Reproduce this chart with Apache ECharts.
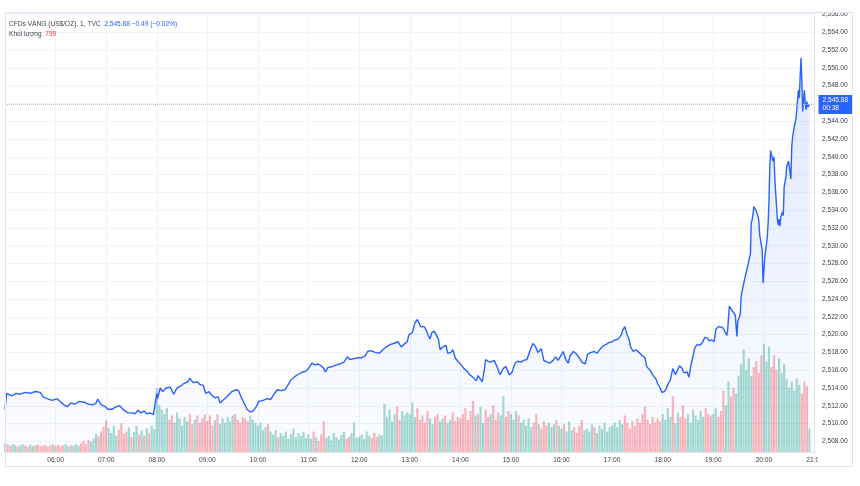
<!DOCTYPE html>
<html><head><meta charset="utf-8">
<script src="https://cdn.jsdelivr.net/npm/echarts@6/dist/echarts.min.js"></script>
<style>html,body{margin:0;padding:0;background:#fff}#c{width:860px;height:486px}</style>
</head><body><div id="c"></div><script>
const priceTimes = ["05:00","05:02","05:08","05:13","05:18","05:24","05:30","05:36","05:42","05:45","05:50","05:56",
"06:02","06:05","06:10","06:14","06:18","06:23","06:28","06:34","06:38","06:44","06:48","06:50","06:54","06:59",
"07:02","07:07","07:12","07:16","07:21","07:26","07:31","07:34","07:38","07:41","07:45","07:48","07:52","07:56","07:58",
"08:00","08:01","08:04","08:07","08:11","08:16","08:20","08:24","08:28","08:32","08:37","08:39","08:43","08:48","08:51","08:55","08:58",
"09:02","09:05","09:09","09:13","09:15","09:18","09:22","09:26","09:29","09:34","09:37","09:40","09:43","09:47","09:51","09:54","09:58",
"10:01","10:06","10:11","10:15","10:19","10:23","10:27","10:32","10:36","10:39","10:44","10:49","10:53","10:57",
"11:00","11:04","11:08","11:11","11:15","11:18","11:20","11:23","11:28","11:33","11:37","11:42","11:46","11:49","11:54","11:59",
"12:03","12:07","12:10","12:14","12:19","12:24","12:28","12:32","12:37","12:41","12:46","12:50","12:53","12:57","12:59",
"13:03","13:06","13:09","13:11","13:13","13:17","13:19","13:22","13:24","13:26","13:29","13:31","13:34","13:36","13:39","13:43","13:45","13:49","13:51","13:54","13:57",
"14:01","14:04","14:08","14:11","14:15","14:19","14:21","14:23","14:26","14:28","14:30","14:33","14:36","14:40","14:43","14:47","14:51","14:54","14:58",
"15:01","15:05","15:08","15:12","15:15","15:19","15:23","15:26","15:29","15:32","15:36","15:39","15:43","15:46","15:50","15:53","15:56","15:59",
"16:02","16:05","16:08","16:10","16:14","16:17","16:21","16:24","16:28","16:31","16:35","16:39","16:42","16:46","16:49","16:53","16:56",
"17:00","17:03","17:07","17:11","17:13","17:15","17:18","17:20","17:22","17:25","17:28","17:32","17:35","17:39","17:41","17:45","17:48","17:52","17:54","17:57","17:59",
"18:02","18:04","18:06","18:09","18:11","18:12","18:15","18:17","18:20","18:23","18:25","18:29","18:31","18:34","18:36","18:38","18:41","18:44","18:47","18:50","18:53","18:55","18:58",
"19:01","19:03","19:06","19:08","19:11","19:14","19:16","19:17","19:19","19:21","19:23","19:26","19:28","19:29","19:32","19:33","19:35","19:38","19:40","19:42","19:44","19:45","19:46","19:47","19:48","19:51","19:53","19:54","19:55","19:58","19:59",
"20:01","20:04","20:05","20:06","20:07","20:08","20:10","20:11","20:12","20:13","20:14","20:16","20:17","20:18","20:19","20:20","20:22","20:23","20:24","20:26","20:27","20:29","20:30","20:31","20:32","20:33","20:34","20:36","20:38","20:39","20:41","20:42","20:43","20:44","20:45","20:46","20:48","20:49","20:50","20:51","20:52","20:54"];
const priceValues = [2511.6,2513.4,2513.1,2513.4,2513.3,2513.5,2513.4,2513.6,2513.5,2513.0,2512.8,2512.6,
2512.8,2512.5,2512.1,2511.9,2512.3,2512.2,2512.5,2512.4,2512.2,2512.1,2512.3,2512.75,2512.1,2511.9,
2511.6,2511.6,2511.9,2512.0,2511.5,2511.2,2511.2,2511.1,2511.5,2511.2,2511.4,2511.1,2511.2,2511.0,2512.2,
2513.4,2512.8,2514.0,2513.6,2514.0,2514.1,2513.3,2514.0,2514.2,2514.5,2514.7,2515.1,2514.6,2514.7,2514.4,2514.3,2513.4,
2513.6,2513.2,2512.9,2513.0,2512.3,2512.6,2512.9,2513.3,2513.6,2513.8,2513.7,2513.0,2512.4,2511.6,2511.3,2511.4,2511.9,
2512.5,2512.6,2512.8,2512.7,2513.3,2513.8,2513.7,2513.8,2514.4,2514.9,2515.3,2515.6,2515.8,2515.9,
2516.2,2516.8,2516.6,2516.7,2516.5,2516.2,2515.8,2516.3,2516.4,2516.6,2516.7,2516.9,2517.5,2517.2,2517.3,2517.4,
2517.4,2517.6,2518.1,2518.2,2518.0,2517.9,2518.3,2518.6,2518.9,2519.0,2519.2,2518.6,2518.9,2519.2,2520.0,
2520.2,2521.3,2521.7,2521.5,2520.9,2520.9,2520.6,2519.9,2519.5,2520.2,2520.4,2520.2,2519.5,2518.3,2518.6,2518.8,2517.9,2518.0,2518.3,2517.4,2517.0,
2516.6,2516.2,2515.9,2515.5,2515.2,2514.8,2515.4,2515.1,2514.7,2515.8,2517.2,2517.0,2516.9,2517.1,2516.5,2515.5,2516.2,2516.4,2515.5,
2515.7,2516.8,2517.0,2516.9,2517.1,2517.2,2518.3,2519.0,2518.7,2518.0,2518.4,2517.1,2516.9,2516.8,2517.1,2517.5,2517.1,2517.6,
2518.1,2517.2,2516.8,2517.6,2518.1,2517.9,2517.4,2516.9,2516.7,2517.8,2518.0,2518.1,2517.9,2518.4,2518.7,2518.9,2519.1,
2519.2,2519.4,2519.5,2520.0,2520.6,2520.9,2519.9,2519.5,2518.6,2518.1,2518.3,2518.0,2517.7,2517.4,2516.4,2516.0,2515.5,2515.0,2514.5,2514.0,2513.5,
2513.6,2513.9,2514.4,2514.9,2515.1,2516.2,2515.5,2515.3,2516.5,2516.2,2515.7,2515.8,2515.2,2516.8,2517.6,2518.5,2518.9,2518.8,2519.1,2519.7,2519.6,2519.3,2519.4,
2519.2,2520.6,2520.9,2520.7,2520.8,2520.3,2519.9,2520.5,2523.2,2523.0,2522.6,2522.2,2519.8,2521.5,2522.3,2524.3,2525.3,2526.6,2527.4,2527.5,2529.1,2532.6,2532.9,2533.5,2534.4,2533.9,2533.3,2532.8,2531.2,2529.5,2525.8,
2528.6,2531.0,2532.5,2535.0,2538.9,2540.7,2539.8,2539.5,2540.0,2537.4,2535.9,2532.9,2532.3,2533.0,2532.2,2533.2,2533.8,2533.4,2536.6,2537.7,2538.9,2539.5,2539.0,2539.2,2537.5,2541.1,2542.2,2543.4,2544.3,2544.5,2547.5,2546.6,2549.0,2551.1,2548.6,2545.1,2547.5,2546.0,2545.3,2546.2,2545.6,2545.88];

const volumeStart = "05:00";
const volumeStepMinutes = 3;
const volumeValues = [
300,260,210,280,240,190,230,270,220,180,250,200,230,260,190,210,240,180,220,260,
210,250,190,230,270,200,240,220,260,210,300,380,280,420,350,460,620,540,700,860,
1080,820,650,900,560,760,980,620,700,840,520,680,900,600,740,560,820,650,900,780,
2200,1600,1450,1300,1500,1100,1250,1000,1350,1150,900,1200,1050,1300,950,1100,1250,1000,1150,1280,
1050,1250,900,1100,1300,950,1150,1000,1200,1050,1250,1300,1100,1000,1200,1150,1050,1250,1100,1000,
900,1000,750,850,950,700,600,750,500,650,550,700,450,600,800,500,650,550,700,480,
600,450,700,520,380,600,1050,480,550,400,650,500,420,580,700,450,520,650,1000,480,
520,600,450,700,550,480,650,520,600,560,1650,1200,1450,1050,1300,1550,1100,1400,1250,1350,
1300,1700,1200,1500,1100,1250,1000,1400,1150,950,1200,1300,1050,1150,1250,1000,1100,1350,1050,1200,
1150,1300,1500,1100,1400,1750,1250,1300,1550,1000,1450,1200,1300,1600,1100,1350,1250,1900,1200,1400,
1300,1100,1400,1250,1000,1100,900,1150,850,1000,1300,950,800,1050,900,1000,850,950,1100,900,
800,950,700,1050,750,850,650,900,1100,750,800,700,950,850,650,900,780,1000,700,850,
900,1000,850,1100,950,1250,1000,800,1050,900,1150,1000,1300,1550,1100,950,1200,1000,1150,1050,
1300,1100,1500,1200,1900,1000,1350,1200,1600,1150,1300,1000,1450,1250,1100,1400,1200,1500,1300,1250,
1300,1500,1200,1400,2100,1600,2400,1900,2200,2000,2600,3000,3500,2800,3200,2600,2900,3100,2700,3300,
3700,3100,3600,2900,3300,2800,3200,2700,3000,2500,2200,2400,2100,2500,2300,2000,2400,2250,799];

const hourLabelsFrom = "05:00", hourLabelsTo = "21:00";
const lastPriceText = "2,545.88", countdownText = "00:38";
const symbolText = "CFDs VÀNG (US$/OZ), 1, TVC";
const changeText = "2,545.88 −0.49 (−0.02%)";
const volumeTitle = "Khối lượng";

const FONT = "'Liberation Sans', Arial, sans-serif";
const FS = 6.6;
const toMin = s => { const p = s.split(':'); return (+p[0]) * 60 + (+p[1]); };
const pad = n => (n < 10 ? '0' : '') + n;
const fmtPrice = v => { const s = v.toFixed(2); const [i, d] = s.split('.'); return i.replace(/\B(?=(\d{3})+(?!\d))/g, ',') + '.' + d; };

const pricePts = priceTimes.map((t, i) => [toMin(t), priceValues[i]]);
const lastPrice = priceValues[priceValues.length - 1];
const lastVol = volumeValues[volumeValues.length - 1];

function priceAt(m) {
  if (m <= pricePts[0][0]) return pricePts[0][1];
  for (let i = 1; i < pricePts.length; i++) {
    if (pricePts[i][0] >= m) {
      const a = pricePts[i - 1], b = pricePts[i];
      return a[1] + (b[1] - a[1]) * (m - a[0]) / (b[0] - a[0]);
    }
  }
  return pricePts[pricePts.length - 1][1];
}
const v0 = toMin(volumeStart);
const UP = 'rgba(8,153,129,0.36)', DOWN = 'rgba(242,54,69,0.36)';
const volData = volumeValues.map((v, i) => {
  const m = v0 + i * volumeStepMinutes;
  const up = priceAt(m + volumeStepMinutes) >= priceAt(m);
  return { value: [m, v], itemStyle: { color: up ? UP : DOWN } };
});

const txt = (c) => ({ color: c, fontSize: FS, fontFamily: FONT, fontWeight: 'normal', lineHeight: 9 });
const xMin = toMin(hourLabelsFrom), xMax = toMin(hourLabelsTo);
const chart = echarts.init(document.getElementById('c'), null, { renderer: 'canvas' });
chart.setOption({
  animation: false,
  backgroundColor: '#fff',
  textStyle: { fontFamily: FONT },
  title: [{
    left: 9, top: 19.5, padding: 0,
    text: '{a|' + symbolText + '}  {b|' + changeText + '}',
    textStyle: { fontWeight: 'normal', fontSize: FS, rich: { a: txt('#3c3f4a'), b: txt('#2962ff') } }
  }, {
    left: 9, top: 29.5, padding: 0,
    text: '{a|' + volumeTitle + '}  {c|' + lastVol + '}',
    textStyle: { fontWeight: 'normal', fontSize: FS, rich: { a: txt('#3c3f4a'), c: txt('#f23645') } }
  }],
  grid: { left: 5, right: 45.5, top: 13, bottom: 34 },
  xAxis: {
    type: 'value', min: xMin, max: xMax, interval: 60,
    axisLine: { show: true, lineStyle: { color: '#e0e3eb' } },
    axisTick: { show: false },
    splitLine: { show: true, lineStyle: { color: '#f0f3fa' } },
    axisLabel: { margin: 4.5, fontSize: FS, color: '#3c3f4a', fontFamily: FONT,
      formatter: v => (v === xMin ? '' : pad(Math.floor(v / 60)) + ':' + pad(v % 60)) }
  },
  yAxis: [{
    type: 'value', position: 'right', min: 2506.80, max: 2556.17,
    minInterval: 2, maxInterval: 2, splitNumber: 25,
    axisLine: { show: true, lineStyle: { color: '#e0e3eb' } },
    axisTick: { show: false },
    splitLine: { show: true, lineStyle: { color: '#f0f3fa' } },
    axisLabel: { margin: 7.5, fontSize: FS, color: '#3c3f4a', fontFamily: FONT,
      formatter: v => (Math.abs(v / 2 - Math.round(v / 2)) < 1e-6 ? fmtPrice(v) : '') }
  }, {
    type: 'value', min: 0, max: 15000, show: false
  }],
  series: [{
    name: 'area', type: 'line', data: pricePts, showSymbol: false, silent: true, z: 1,
    lineStyle: { width: 0 },
    areaStyle: { color: { type: 'linear', x: 0, y: 13, x2: 0, y2: 452, global: true,
      colorStops: [{ offset: 0, color: 'rgba(41,98,255,0.24)' }, { offset: 1, color: 'rgba(41,98,255,0.02)' }] } }
  }, {
    name: 'volume', type: 'bar', yAxisIndex: 1, data: volData, barWidth: 2.2, z: 2, silent: true,
    markLine: {
      silent: true, symbol: ['none', 'none'],
      lineStyle: { opacity: 0 },
      data: [{ yAxis: lastVol }],
      label: { position: 'end', distance: 4, formatter: String(lastVol), color: '#fff',
        backgroundColor: '#f23645', padding: [1, 2, 0, 2], fontSize: FS, lineHeight: 7.5, fontFamily: FONT }
    }
  }, {
    name: 'price', type: 'line', data: pricePts, showSymbol: false, z: 3,
    lineStyle: { color: '#2962ff', width: 1.4 },
    markLine: {
      silent: true, symbol: ['none', 'none'],
      lineStyle: { type: 'dotted', color: '#b4c2d4', width: 1 },
      data: [{ yAxis: lastPrice }],
      label: { position: 'end', distance: 4, formatter: lastPriceText + '\n' + countdownText, color: '#fff',
        backgroundColor: '#2962ff', padding: [2, 4, 1, 4], fontSize: FS, lineHeight: 8, fontFamily: FONT, align: 'left' }
    }
  }],
  graphic: [
    { type: 'rect', z: 100, shape: { x: 0, y: 0, width: 860, height: 12.5 }, style: { fill: '#fff' } },
    { type: 'rect', z: 100, shape: { x: 818, y: 454, width: 34, height: 12 }, style: { fill: '#fff' } },
    { type: 'rect', z: 101, shape: { x: 5.5, y: 12.5, width: 847, height: 454 }, style: { fill: 'none', stroke: '#e0e3eb', lineWidth: 1 } }
  ]
});
</script></body></html>
